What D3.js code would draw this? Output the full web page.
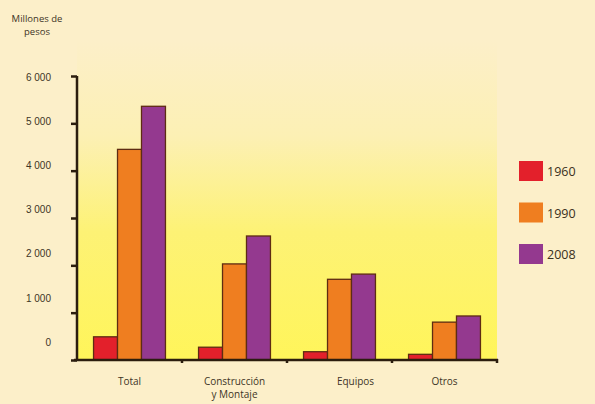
<!DOCTYPE html>
<html>
<head>
<meta charset="utf-8">
<script src="https://cdn.jsdelivr.net/npm/d3@7"></script>
<style>
  body { margin: 0; background: #fcefc9; }
  svg { display: block; font-family: "Open Sans", sans-serif; }
</style>
</head>
<body>
<svg id="chart" width="595" height="404"></svg>
<script>
"use strict"

// data (millones de pesos)
const categories = ["Total", "Construcción\ny Montaje", "Equipos", "Otros"];
const years = ["1960", "1990", "2008"];
const v1960 = [490, 270, 175, 120];
const v1990 = [4450, 2030, 1705, 800];
const v2008 = [5360, 2620, 1815, 930];
const yTicks = [0, 1000, 2000, 3000, 4000, 5000, 6000];

const series = [v1960, v1990, v2008];
const colors = ["#e3202b", "#ef7e20", "#94398f"];

const svg = d3.select("#chart");
const width = 595, height = 404;

svg.append("rect").attr("width", width).attr("height", height).attr("fill", "#fcefc9");

// gradient behind the plot
const defs = svg.append("defs");
const grad = defs.append("linearGradient").attr("id", "bg").attr("x1", 0).attr("y1", 0).attr("x2", 0).attr("y2", 1);
grad.append("stop").attr("offset", "0%").attr("stop-color", "#fcefc9");
grad.append("stop").attr("offset", "30%").attr("stop-color", "#fcf0b4");
grad.append("stop").attr("offset", "60%").attr("stop-color", "#fdf275");
grad.append("stop").attr("offset", "100%").attr("stop-color", "#fff55a");

const pLeft = 77, pRight = 497, pBottom = 360, pTop = 76;

svg.append("rect")
  .attr("x", pLeft).attr("y", 40)
  .attr("width", pRight - pLeft).attr("height", pBottom - 40)
  .attr("fill", "url(#bg)");

const y = d3.scaleLinear().domain([0, 6000]).range([pBottom, pTop]);
// the printed labels sit a bit above their ticks, drifting more near 0
const yLabel = d3.scaleLinear().domain([0, 6000]).range([342, 77]);

const x0 = d3.scaleBand().domain(categories).range([pLeft, pRight]).padding(0);
const x1 = d3.scaleBand().domain(years).range([0, x0.bandwidth()]).paddingInner(0).paddingOuter(0.69);

// bars
const groups = svg.append("g").selectAll("g")
  .data(categories)
  .join("g")
  .attr("transform", d => `translate(${x0(d)},0)`);

groups.selectAll("rect")
  .data((c, i) => years.map((yr, k) => ({ yr, k, v: series[k][i] })))
  .join("rect")
  .attr("x", d => x1(d.yr))
  .attr("width", x1.bandwidth())
  .attr("y", d => y(d.v))
  .attr("height", d => pBottom - y(d.v))
  .attr("fill", d => colors[d.k])
  .attr("stroke", "#5e2c12")
  .attr("stroke-width", 1.3);

// y axis
const yAxis = svg.append("g")
  .attr("transform", `translate(${pLeft},0)`)
  .call(d3.axisLeft(y).tickValues(yTicks).tickSize(6).tickPadding(20)
    .tickFormat(d => d3.format(",")(d).replace(",", " ")));
yAxis.select(".domain").remove();
yAxis.selectAll(".tick line").attr("stroke", "#2b1d0e").attr("stroke-width", 2.5);
yAxis.selectAll(".tick text")
  .attr("y", d => yLabel(d) - y(d))
  .attr("fill", "#3e3526")
  .style("font-size", "10px");
yAxis.append("line")
  .attr("x1", 0).attr("x2", 0)
  .attr("y1", pTop).attr("y2", pBottom)
  .attr("stroke", "#2b1d0e").attr("stroke-width", 2.5);

// x axis
const xAxis = svg.append("g").attr("transform", `translate(0,${pBottom})`);
xAxis.append("line")
  .attr("x1", pLeft - 3).attr("x2", pRight + 1)
  .attr("stroke", "#2b1d0e").attr("stroke-width", 2.5);
xAxis.selectAll(".sep")
  .data(categories.slice(1).concat(["end"]))
  .join("line")
  .attr("class", "sep")
  .attr("x1", (d, i) => i < categories.length - 1 ? x0(d) : pRight)
  .attr("x2", (d, i) => i < categories.length - 1 ? x0(d) : pRight)
  .attr("y1", -1).attr("y2", 3)
  .attr("stroke", "#2b1d0e").attr("stroke-width", 2.5);

const xl = svg.append("g").selectAll("text")
  .data(categories)
  .join("text")
  .attr("text-anchor", "middle")
  .attr("fill", "#3e3526")
  .style("font-size", "10px")
  .attr("transform", d => `translate(${x0(d) + x0.bandwidth() / 2 + (d === "Equipos" ? 16 : 0)},385)`);
xl.selectAll("tspan")
  .data(d => d.split("\n"))
  .join("tspan")
  .attr("x", 0)
  .attr("dy", (d, i) => i === 0 ? 0 : 13)
  .text(d => d);

// axis title
svg.append("text")
  .attr("x", 37).attr("y", 22)
  .attr("text-anchor", "middle")
  .attr("fill", "#3e3526")
  .style("font-size", "9.5px")
  .selectAll("tspan")
  .data(["Millones de", "pesos"])
  .join("tspan")
  .attr("x", 37)
  .attr("dy", (d, i) => i === 0 ? 0 : 13)
  .text(d => d);

// legend
const legendY = d3.scalePoint().domain(years).range([171, 254]);
const legend = svg.append("g").selectAll("g")
  .data(years)
  .join("g")
  .attr("transform", d => `translate(519,${legendY(d)})`);
legend.append("rect")
  .attr("x", 0).attr("y", -10)
  .attr("width", 24).attr("height", 20)
  .attr("fill", (d, i) => colors[i]);
legend.append("text")
  .attr("x", 28).attr("y", 5)
  .attr("fill", "#3a3020")
  .style("font-size", "12.5px")
  .text(d => d);
</script>
</body>
</html>
